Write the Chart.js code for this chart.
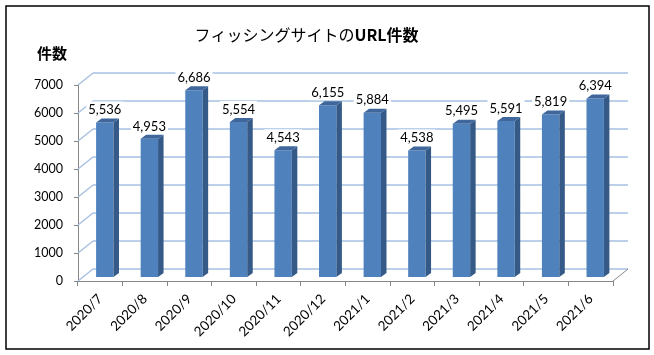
<!DOCTYPE html>
<html>
<head>
<meta charset="utf-8">
<script src="https://cdn.jsdelivr.net/npm/chart.js@4/dist/chart.umd.min.js"></script>
<style>
html,body{margin:0;padding:0;background:#fff;}
#wrap{width:654px;height:355px;position:relative;}
canvas{display:block;}
</style>
</head>
<body>
<div id="wrap"><canvas id="c" width="654" height="355"></canvas></div>
<script>
// ---- data ----
const categories = ['2020/7','2020/8','2020/9','2020/10','2020/11','2020/12','2021/1','2021/2','2021/3','2021/4','2021/5','2021/6'];
const urlCounts = [5536, 4953, 6686, 5554, 4543, 6155, 5884, 4538, 5495, 5591, 5819, 6394];
const yTicks = [0, 1000, 2000, 3000, 4000, 5000, 6000, 7000];
const titleNormal = 'フィッシングサイトの';
const titleBold = 'URL件数';
const yAxisTitle = '件数';

// ---- 3D look ----
const DEPTH_DX = 15, DEPTH_DY = -12;   // back wall offset
const BAR_FX = 4.5, BAR_FY = -3.5;     // bar front-face offset
const BAR_DX = 5.5, BAR_DY = -4;       // bar depth
const GRID_COLOR = '#A6C0E2';
const AXIS_COLOR = '#868686';
const FONT = 'Lato, "Liberation Sans", Arial, sans-serif';
const JP_FONT = '"Noto Sans CJK JP", "Noto Sans", sans-serif';

const wallsPlugin = {
  id: 'walls',
  beforeDatasetsDraw(chart) {
    const ctx = chart.ctx, y = chart.scales.y, area = chart.chartArea;
    ctx.save();
    ctx.lineWidth = 1.5;
    ctx.strokeStyle = GRID_COLOR;
    yTicks.forEach(v => {
      const py = y.getPixelForValue(v);
      ctx.beginPath();
      ctx.moveTo(area.left + DEPTH_DX, py + DEPTH_DY);
      ctx.lineTo(area.right + DEPTH_DX, py + DEPTH_DY);
      ctx.stroke();
      ctx.beginPath();
      ctx.moveTo(area.left, py);
      ctx.lineTo(area.left + DEPTH_DX, py + DEPTH_DY);
      ctx.stroke();
    });
    const p0 = y.getPixelForValue(0);
    ctx.strokeStyle = AXIS_COLOR;
    ctx.lineWidth = 1;
    ctx.beginPath();
    ctx.moveTo(area.right, p0);
    ctx.lineTo(area.right + DEPTH_DX, p0 + DEPTH_DY);
    ctx.stroke();
    ctx.restore();
  },
  beforeDatasetDraw(chart) {
    chart.ctx.save();
    chart.ctx.translate(BAR_FX, BAR_FY);
  },
  afterDatasetDraw(chart, args) {
    const ctx = chart.ctx;
    const meta = chart.getDatasetMeta(args.index);
    meta.data.forEach(bar => {
      const p = bar.getProps(['x', 'y', 'base', 'width'], true);
      const xl = p.x - p.width / 2, xr = p.x + p.width / 2;
      // side face
      ctx.fillStyle = '#355A88';
      ctx.beginPath();
      ctx.moveTo(xr, p.y);
      ctx.lineTo(xr + BAR_DX, p.y + BAR_DY);
      ctx.lineTo(xr + BAR_DX, p.base + BAR_DY);
      ctx.lineTo(xr, p.base);
      ctx.closePath();
      ctx.fill();
      // top face
      ctx.fillStyle = '#3F679B';
      ctx.beginPath();
      ctx.moveTo(xl, p.y);
      ctx.lineTo(xl + BAR_DX, p.y + BAR_DY);
      ctx.lineTo(xr + BAR_DX, p.y + BAR_DY);
      ctx.lineTo(xr, p.y);
      ctx.closePath();
      ctx.fill();
    });
    ctx.restore();
  },
  afterDatasetsDraw(chart) {
    const ctx = chart.ctx;
    const meta = chart.getDatasetMeta(0);
    ctx.save();
    ctx.font = '13px ' + FONT;
    ctx.textAlign = 'center';
    ctx.textBaseline = 'middle';
    meta.data.forEach((bar, i) => {
      const p = bar.getProps(['x', 'y'], true);
      const txt = urlCounts[i].toLocaleString('en-US');
      const cx = p.x + BAR_FX, cy = p.y + BAR_FY - 13;
      const w = ctx.measureText(txt).width + 4;
      ctx.fillStyle = '#fff';
      ctx.fillRect(cx - w / 2, cy - 8, w, 16);
      ctx.fillStyle = '#000';
      ctx.fillText(txt, cx, cy + 0.5);
    });
    ctx.restore();
  },
  afterDraw(chart) {
    const ctx = chart.ctx;
    ctx.save();
    // title
    ctx.textBaseline = 'middle';
    ctx.fillStyle = '#000';
    ctx.font = '16px ' + JP_FONT;
    const w1 = ctx.measureText(titleNormal).width;
    ctx.font = 'bold 16px ' + JP_FONT;
    const w2 = ctx.measureText(titleBold).width;
    let tx = 306.5 - (w1 + w2) / 2;
    ctx.textAlign = 'left';
    ctx.font = '16px ' + JP_FONT;
    ctx.fillText(titleNormal, tx, 35);
    ctx.font = 'bold 16px ' + JP_FONT;
    ctx.fillText(titleBold, tx + w1, 35);
    // y axis title
    ctx.font = 'bold 15px ' + JP_FONT;
    ctx.textAlign = 'center';
    ctx.fillText(yAxisTitle, 52, 53);
    // frame
    ctx.strokeStyle = '#000';
    ctx.lineWidth = 1.5;
    ctx.strokeRect(6, 6, 643, 343);
    ctx.restore();
  }
};

new Chart(document.getElementById('c'), {
  type: 'bar',
  data: {
    labels: categories,
    datasets: [{
      data: urlCounts,
      backgroundColor: '#4F81BD',
      borderWidth: 0,
      barPercentage: 0.39,
      categoryPercentage: 1.0,
      clip: false
    }]
  },
  options: {
    responsive: false,
    animation: false,
    devicePixelRatio: 1,
    layout: { padding: { top: 85, right: 41, left: 0, bottom: 0 } },
    plugins: { legend: { display: false }, tooltip: { enabled: false }, title: { display: false } },
    scales: {
      x: {
        grid: { display: true, drawOnChartArea: false, drawTicks: true, tickLength: 5, color: AXIS_COLOR, offset: true },
        border: { display: true, color: AXIS_COLOR, width: 1 },
        ticks: { minRotation: 45, maxRotation: 45, autoSkip: false, color: '#000', font: { family: FONT, size: 13.5 }, padding: 5 },
        afterFit(s) { s.height = 74; }
      },
      y: {
        min: 0, max: 7000,
        afterBuildTicks(s) { s.ticks = yTicks.map(v => ({ value: v })); },
        grid: { display: true, drawOnChartArea: false, drawTicks: true, tickLength: 4, color: AXIS_COLOR },
        border: { display: true, color: AXIS_COLOR, width: 1 },
        ticks: { color: '#000', font: { family: FONT, size: 12.5 }, padding: 11, callback: v => String(v) },
        afterFit(s) { s.width = 78; }
      }
    }
  },
  plugins: [wallsPlugin]
});
</script>
</body>
</html>
